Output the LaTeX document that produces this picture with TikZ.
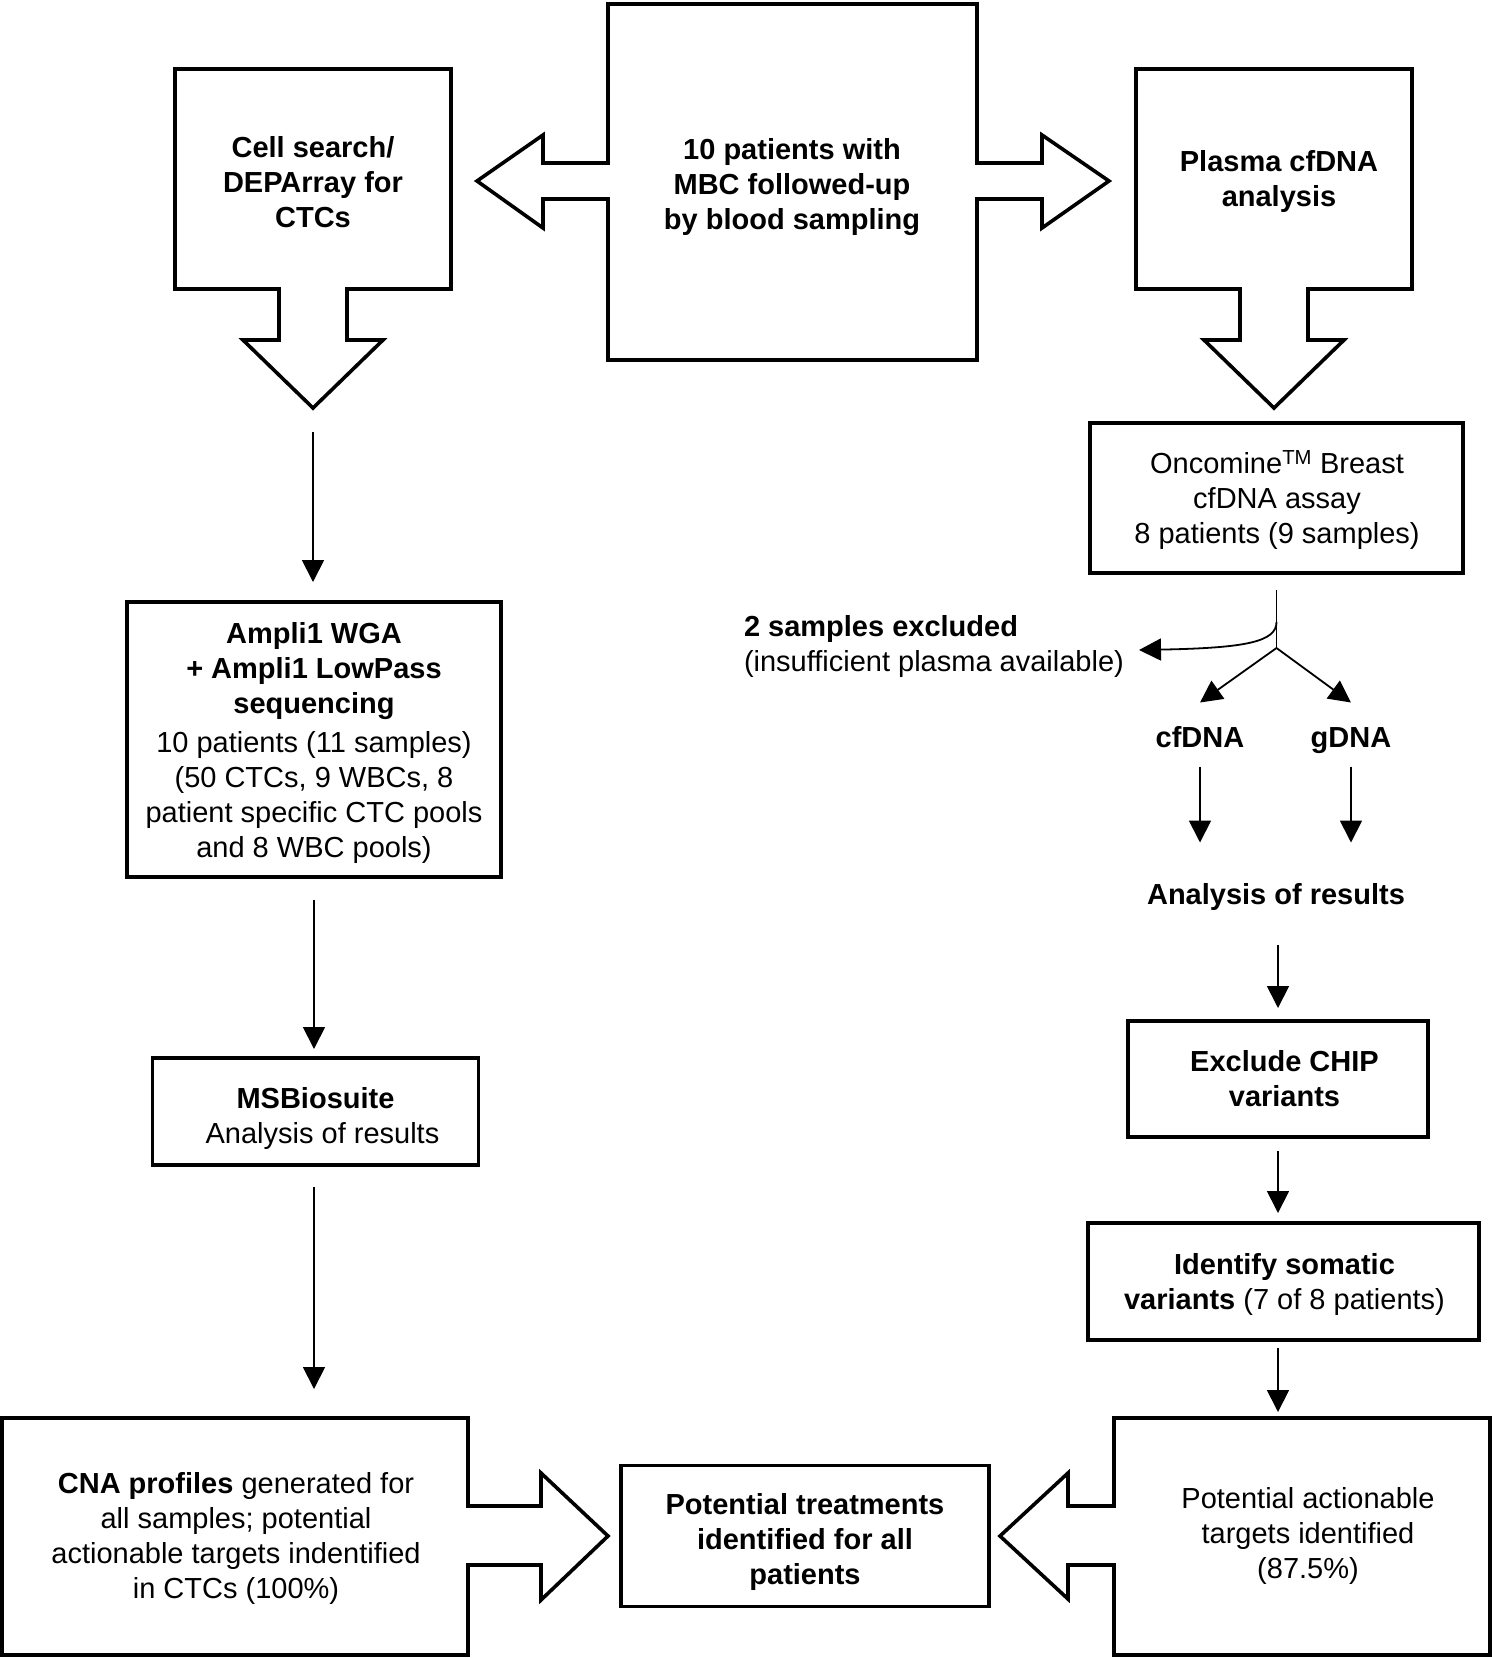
\documentclass[tikz,border=0pt]{standalone}
\usepackage{fontspec}
\setmainfont{Liberation Sans}
\usetikzlibrary{arrows.meta}
\begin{document}
\begin{tikzpicture}[x=1pt,y=-1pt,
  every node/.style={inner sep=0pt, outer sep=0pt, font=\fontsize{29}{35}\selectfont, align=center},
  bld/.style={font=\fontsize{29}{35}\selectfont\bfseries},
  outline/.style={draw=black, line width=3.6pt, line join=miter, miter limit=10},
  box/.style={draw=black, line width=3.6pt},
  arr/.style={draw=black, line width=1.8pt, -{Triangle[length=22pt,width=22pt]}},
  plainline/.style={draw=black, line width=1.8pt},
  lbl/.style={font=\fontsize{29}{35}\selectfont\bfseries, text height=21pt, text depth=6pt}]

\useasboundingbox (0,0) rectangle (1493,1658);

% ---------- top: centre box with two block arrows ----------
\draw[outline] (608,4) -- (977,4) -- (977,163) -- (1042,163) -- (1042,135) -- (1109,181)
  -- (1042,228) -- (1042,199) -- (977,199) -- (977,360) -- (608,360) -- (608,199)
  -- (543,199) -- (543,228) -- (477,181) -- (543,135) -- (543,163) -- (608,163) -- cycle;
\node[bld] (pts) at (792,187) {10 patients with\\MBC followed-up\\by blood sampling};

% left block with down arrow
\draw[outline] (175,69) -- (451,69) -- (451,289) -- (347,289) -- (347,340) -- (383,340)
  -- (313,408) -- (243,340) -- (279,340) -- (279,289) -- (175,289) -- cycle;
\coordinate (celltip) at (313,408);
\node[bld] (cell) at (313,182) {Cell search/\\DEPArray for\\CTCs};

% right block with down arrow
\draw[outline] (1136,69) -- (1412,69) -- (1412,289) -- (1308,289) -- (1308,340) -- (1344,340)
  -- (1274,408) -- (1204,340) -- (1240,340) -- (1240,289) -- (1136,289) -- cycle;
\node[bld] (plasma) at (1279,181) {Plasma cfDNA\\analysis};

% ---------- left column ----------
\node[box, minimum width=374pt, minimum height=275pt] (ampli) at (314,739.5) {};
\node (amplitext) at (314,743)
  {\textbf{Ampli1 WGA}\\\textbf{+ Ampli1 LowPass}\\\textbf{sequencing}\\[4pt]10 patients (11 samples)\\(50 CTCs, 9 WBCs, 8\\patient specific CTC pools\\and 8 WBC pools)};

\node[box, minimum width=326pt, minimum height=107pt] (msb) at (315.5,1111.5) {};
\node (msbtext) at (315.5,1118.5) {\textbf{MSBiosuite}\\\hspace*{14pt}Analysis of results};

% CNA block with right arrow
\draw[outline] (2,1418) -- (468,1418) -- (468,1506) -- (541,1506) -- (541,1473) -- (608,1536)
  -- (541,1600) -- (541,1565) -- (468,1565) -- (468,1655) -- (2,1655) -- cycle;
\coordinate (cnatop) at (313,1418);
\node (cna) at (236,1538) {\textbf{CNA profiles} generated for\\all samples; potential\\actionable targets indentified\\in CTCs (100\%)};

\draw[arr, shorten <=24pt, shorten >=20pt] (celltip) -- (celltip |- ampli.north);
\draw[arr, shorten <=23pt, shorten >=9pt] (ampli.south) -- (ampli.south |- msb.north);
\draw[arr, shorten <=22pt, shorten >=29pt] (ampli.south |- msb.south) -- (ampli.south |- cnatop);

% ---------- centre bottom ----------
\node[box, minimum width=368pt, minimum height=141pt] (treat) at (805,1536) {};
\node[bld] (treattext) at (805,1541.5) {Potential treatments\\identified for all\\patients};

% ---------- right column ----------
\node[box, minimum width=373pt, minimum height=150pt] (onc) at (1276.5,498) {};
\node (onctext) at (1277,500.5) {Oncomine\textsuperscript{TM} Breast\\cfDNA assay\\8 patients (9 samples)};

\coordinate (junc) at (1276.5,648);
\coordinate (split) at (1276.5,622);
\coordinate (exclend) at (1139,650);
\draw[plainline, shorten <=17pt] (onc.south) -- (junc);

\node[anchor=west, align=left] (excl) at (744,646)
  {\textbf{2 samples excluded}\\(insufficient plasma available)};
\draw[arr] (split) .. controls (1276.5,642) and (1245,648) .. (exclend);

\node[lbl] (cf) at (1200,740) {cfDNA};
\node[lbl] (gd) at (1351,740) {gDNA};
\draw[arr] (junc) -- ([yshift=24pt]cf.north);
\draw[arr] (junc) -- ([yshift=24pt]gd.north);

\node[lbl] (anl) at (1276,897) {Analysis of results};
\draw[arr, shorten <=13pt, shorten >=41pt] (cf.south) -- (cf.south |- anl.north);
\draw[arr, shorten <=13pt, shorten >=41pt] (gd.south) -- (gd.south |- anl.north);

\node[box, minimum width=300pt, minimum height=116pt] (exc) at (1278,1079) {};
\node[bld] (exctext) at (1284.5,1079) {Exclude CHIP\\variants};
\node[box, minimum width=391pt, minimum height=117pt] (ident) at (1283.5,1281.5) {};
\node (identtext) at (1284.5,1284.5) {\textbf{Identify somatic}\\\textbf{variants} (7 of 8 patients)};

% right bottom block with left arrow
\draw[outline] (1114,1418) -- (1490,1418) -- (1490,1655) -- (1114,1655) -- (1114,1565)
  -- (1068,1565) -- (1068,1599) -- (1000,1536) -- (1068,1473) -- (1068,1506) -- (1114,1506) -- cycle;
\coordinate (rbtop) at (1278,1418);
\node (targets) at (1308,1536) {Potential actionable\\targets identified\\(87.5\%)};

\draw[arr, shorten <=34.5pt, shorten >=13pt] (exc.north |- anl.south) -- (exc.north);
\draw[arr, shorten <=14pt, shorten >=10pt] (exc.south) -- (exc.south |- ident.north);
\draw[arr, shorten <=8pt, shorten >=6pt] (exc.south |- ident.south) -- (exc.south |- rbtop);

\end{tikzpicture}
\end{document}
